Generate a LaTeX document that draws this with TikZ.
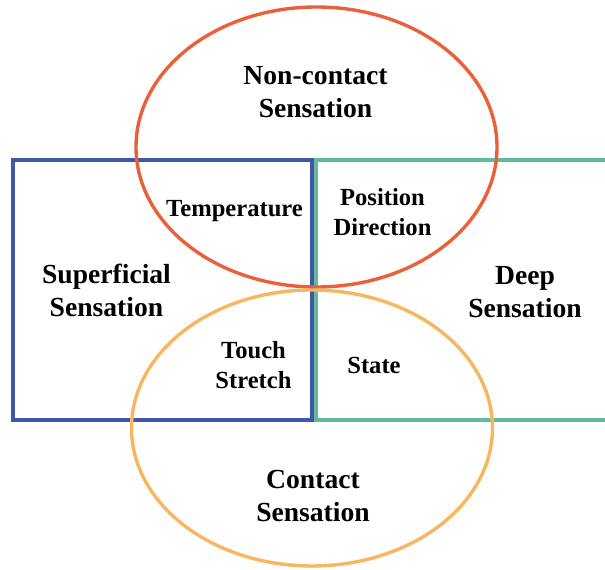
\documentclass[tikz,border=0pt]{standalone}
\usepackage{fontspec}
\setmainfont{Liberation Serif}
\usetikzlibrary{shapes.geometric}
\definecolor{cRed}{RGB}{233,96,58}
\definecolor{cOrange}{RGB}{248,182,96}
\definecolor{cBlue}{RGB}{64,86,166}
\definecolor{cTeal}{RGB}{96,186,156}
\tikzset{
	zone/.style   ={ellipse, draw, line width=3.4pt, minimum width=361pt, inner sep=0pt},
	frame/.style  ={line width=3.2pt},
	bigtxt/.style ={align=center, font=\fontsize{27.6}{33}\selectfont\bfseries},
	smalltxt/.style={align=center, font=\fontsize{24.6}{30}\selectfont\bfseries},
}
\begin{document}
\begin{tikzpicture}[x=1pt, y=-1pt]
	\useasboundingbox (0,0) rectangle (605,570);
	% sensation by depth
	\draw[frame, cBlue] (13,160) rectangle (312,420);
	\draw[frame, cTeal] (607,160) -- (316,160) -- (316,420) -- (607,420);
	% sensation by contact
	\node[zone, draw=cRed, minimum height=280pt] (noncontact) at (316.5,147) {};
	\node[zone, draw=cOrange, minimum height=276pt] (contact) at (312,428) {};
	% labels
	\node[bigtxt] (tNon) at (315.5,92.5) {Non-contact\\Sensation};
	\node[bigtxt] (tCon) at (313,495.5) {Contact\\Sensation};
	\node[bigtxt] (tSup) at (106.5,290.3) {Superficial\\Sensation};
	\node[bigtxt] (tDeep) at (525,292.5) {Deep\\Sensation};
	\node[smalltxt, anchor=base] (tTemp) at (234.5,216.7) {Temperature};
	\node[smalltxt] (tPos) at (382.5,212) {Position\\Direction};
	\node[smalltxt] (tTouch) at (253.5,365.4) {Touch\\Stretch};
	\node[smalltxt, anchor=base] (tState) at (374,373) {State};
\end{tikzpicture}
\end{document}
